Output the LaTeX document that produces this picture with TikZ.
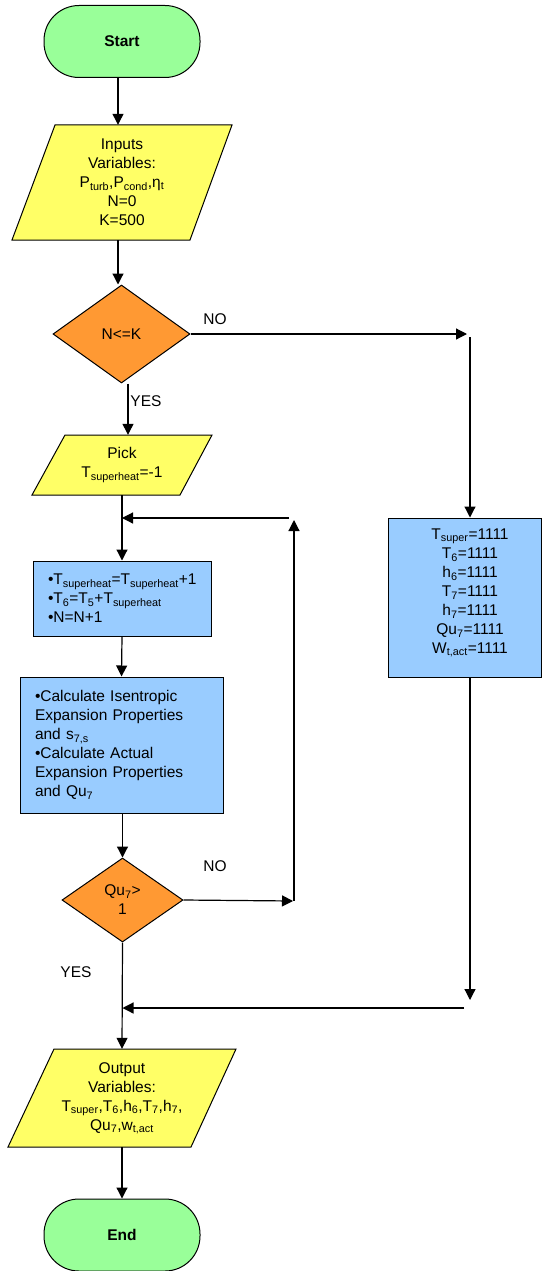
\documentclass[tikz,border=0pt]{standalone}
\usepackage{fontspec}
\setmainfont{Liberation Sans}
\usetikzlibrary{shapes.geometric,arrows.meta}
\definecolor{termgreen}{HTML}{99FF99}
\definecolor{ioyellow}{HTML}{FFFF66}
\definecolor{decorange}{HTML}{FF9933}
\definecolor{procblue}{HTML}{99CCFF}
\newcommand\sbs[1]{\textsubscript{#1}}
\begin{document}
\begin{tikzpicture}[x=1pt,y=-1pt,
  every node/.style={font=\fontsize{15.5pt}{19pt}\selectfont, inner sep=0pt},
  termbox/.style={draw, line width=1pt, fill=termgreen, rounded corners=35pt,
    minimum width=156pt, minimum height=72pt, font=\fontsize{15.5pt}{19pt}\selectfont\bfseries},
  decbox/.style={diamond, draw, line width=1pt, fill=decorange, inner sep=0pt, align=center},
  procbox/.style={draw, line width=1pt, fill=procblue},
  iobox/.style={draw, line width=1pt, fill=ioyellow},
  arr/.style={-{Triangle[length=11pt,width=11pt]}, line width=1.2pt},
  plain/.style={line width=1.2pt}]
\useasboundingbox (0,0) rectangle (543,1271);

% helper x positions
\coordinate (xa) at (118,0);
\coordinate (xb) at (128,0);

% Start
\node[termbox] (start) at (122,41.5) {Start};

% Inputs
\draw[iobox] (55,125) -- (232,125) -- (190,240) -- (12,240) -- cycle;
\node[align=center, minimum width=170pt, minimum height=115pt] (inp) at (122,182.5)
  {Inputs\\Variables:\\P\sbs{turb},P\sbs{cond},η\sbs{t}\\N=0\\K=500};

% Decision 1
\node[decbox, minimum width=137pt, minimum height=98pt] (d1) at (121.5,334) {N<=K};

% Pick
\draw[iobox] (65,435) -- (212,435) -- (180,495) -- (32,495) -- cycle;
\node[align=center, minimum width=140pt, minimum height=60pt] (pick) at (122,465)
  {Pick\\T\sbs{superheat}=-1};

% Box 1
\node[procbox, minimum width=178pt, minimum height=75pt, text width=148pt,
  inner xsep=15pt, align=left] (box1) at (122,598.5)
  {•T\sbs{superheat}=T\sbs{superheat}+1\\•T\sbs{6}=T\sbs{5}+T\sbs{superheat}\\•N=N+1};

% Box 2
\node[procbox, minimum width=203pt, minimum height=136pt, text width=173pt,
  inner xsep=15pt, align=left] (box2) at (121.5,745)
  {•Calculate Isentropic\\Expansion Properties\\and s\sbs{7,s}\\•Calculate Actual\\Expansion Properties\\and Qu\sbs{7}};

% Decision 2
\node[decbox, minimum width=121pt, minimum height=84pt] (d2) at (122.5,900) {Qu\sbs{7}>\\1};

% Right box
\node[procbox, minimum width=153pt, minimum height=159pt] (rbox) at (464.5,597.5) {};
\node[align=center] (rtext) at (470,593)
  {T\sbs{super}=1111\\T\sbs{6}=1111\\h\sbs{6}=1111\\T\sbs{7}=1111\\h\sbs{7}=1111\\Qu\sbs{7}=1111\\W\sbs{t,act}=1111};

% Output
\draw[iobox] (54,1049) -- (236,1049) -- (191,1147) -- (8,1147) -- cycle;
\node[align=center, minimum width=170pt, minimum height=98pt] (out) at (122,1098)
  {Output\\Variables:\\T\sbs{super},T\sbs{6},h\sbs{6},T\sbs{7},h\sbs{7},\\Qu\sbs{7},w\sbs{t,act}};

% End
\node[termbox] (end) at (122,1235) {End};

% Labels
\node (no1) at (215,319) {NO};
\node (yes1) at (146,401) {YES};
\node (no2) at (215,866) {NO};
\node (yes2) at (76,972) {YES};

% Coordinates for connectors
\coordinate (noTip) at (467,334);
\coordinate (noTop) at (470,337);
\coordinate (rEnd) at (470,1000);
\coordinate (rJoin) at (464,1008);
\coordinate (loopB) at (293,901);
\coordinate (loopBase) at (294,901);
\coordinate (loopT) at (294,520);
\coordinate (loopH) at (289,518);

% Connectors
\draw[arr] (start.south -| xa) -- (inp.north -| xa);
\draw[arr] (inp.south -| xa) -- (d1.north -| xa);
\draw[arr] (d1.south -| xb) -- (pick.north -| xb);
\draw[arr] (pick.south) -- (box1.north);
\draw[arr] (box1.south) -- (box2.north);
\draw[arr] (box2.south -| d2.north) -- (d2.north);
\draw[arr] (d2.south) -- (out.north);
\draw[arr] (out.south) -- (end.north);

\draw[arr] (d1.east) -- (noTip);
\draw[arr] (noTop) -- (noTop |- rbox.north);
\draw[arr] (noTop |- rbox.south) -- (rEnd);
\draw[arr] (rJoin) -- (rJoin -| d2.south);

\draw[arr] (d2.east) -- (loopB);
\draw[arr] (loopBase) -- (loopT);
\draw[arr] (loopH) -- (loopH -| pick.south);
\end{tikzpicture}
\end{document}
